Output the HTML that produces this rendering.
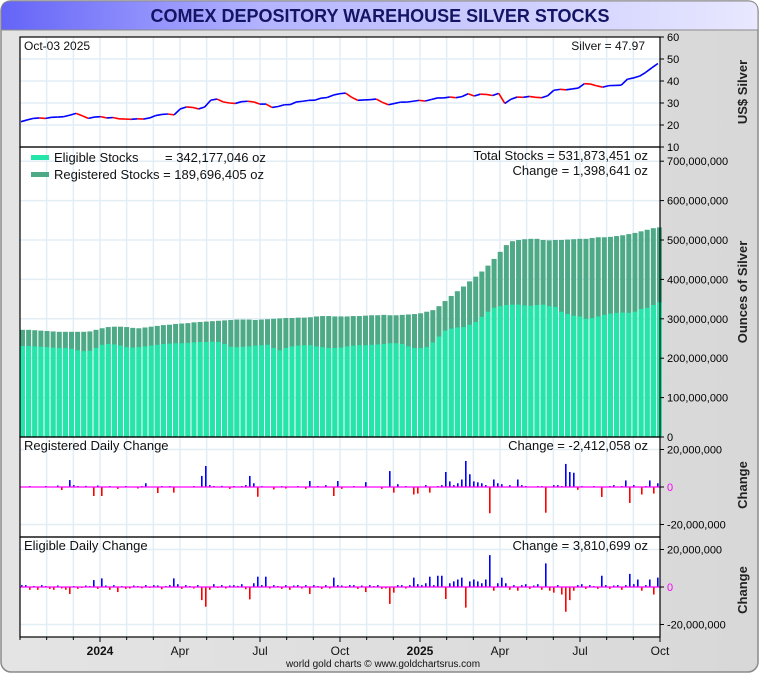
<!DOCTYPE html>
<html><head><meta charset="utf-8">
<style>
html,body{margin:0;padding:0;background:#fff;}
svg{display:block;font-family:"Liberation Sans",Arial,sans-serif;}
</style></head>
<body>
<svg id="chart" width="760" height="675" viewBox="0 0 760 675">
<defs>
<linearGradient id="tg" x1="0" x2="1" y1="0" y2="0"><stop offset="0" stop-color="#6464f8"/><stop offset="0.35" stop-color="#b4b4ff"/><stop offset="1" stop-color="#e8e8ff"/></linearGradient>
<linearGradient id="bg" x1="0" x2="1" y1="0" y2="0"><stop offset="0" stop-color="#e4e4e4"/><stop offset="1" stop-color="#d8d8d8"/></linearGradient>
</defs>
<rect x="1" y="1" width="757" height="671" rx="10" fill="url(#bg)" stroke="#8a8a8a" stroke-width="1.5"/>
<path d="M1 30 L1 11 Q1 1 11 1 L748 1 Q758 1 758 11 L758 30 Z" fill="url(#tg)" stroke="#8a8a8a"/>
<text x="380" y="22" text-anchor="middle" font-size="18" font-weight="bold" fill="#141464">COMEX DEPOSITORY WAREHOUSE SILVER STOCKS</text>
<rect x="20" y="37" width="640" height="600" fill="#fff"/>
<g id="grid"></g>
<g id="marks"></g>
<g id="frames"></g>
<g id="labels"></g>
</svg>
<script>
// ---- data ----
const monthLabels = ["2024","Apr","Jul","Oct","2025","Apr","Jul","Oct"];
const monthLabelIdx = [3,6,9,12,15,18,21,24];
const silverPrice = [21.5,22.3,23,23.2,23,23.5,23.6,23.8,24.5,25.3,24.2,23,23.6,23.8,23.2,23.4,22.8,22.7,22.6,22.8,22.7,23.2,24.3,24.8,25,24.6,27.3,28.2,28,27.3,28.2,31.3,31.8,30.5,30,29.8,30.6,30.8,30.5,29.5,29.5,28,28.4,29.2,29.3,30.5,30.8,31.2,31.3,32.2,32.5,33.6,34.2,34.5,32.6,31.2,31.4,31.5,31.8,30.3,29.2,29.8,30.4,30.4,30.8,31.2,30.9,31.6,32.3,32.3,32.7,32.4,32.9,34.2,33.2,34,33.9,33.4,34.4,29.8,31.7,32.7,32.6,33,32.6,32.4,33.3,35.8,36.2,36,36.4,36.8,38.8,38.6,37.8,37.2,37.9,38,38.1,40.8,41.4,42.2,43.9,46,47.97];
const totalStocks = [272,272,271,270,269,268,267,267,267,267,267,268,272,276,279,280,280,279,277,276,278,280,282,284,285,287,288,289,291,292,293,294,295,296,297,298,298,298,297,298,299,300,301,302,302,303,303,304,306,307,307,306,306,306,307,307,308,309,309,310,309,309,310,311,312,314,318,322,332,345,358,370,382,395,407,420,435,452,470,487,497,500,502,503,503,500,499,500,500,501,502,503,503,505,507,507,508,510,512,515,518,522,526,530,532];
const eligibleStocks = [231,231,230,229,228,227,226,226,224,220,218,219,226,234,236,235,232,228,227,228,230,232,234,236,237,238,238,239,240,241,241,242,241,236,229,228,229,230,232,233,234,226,220,226,230,232,233,233,230,228,226,226,227,230,232,233,233,234,235,236,238,238,236,230,226,226,228,240,255,270,275,278,279,285,292,305,318,328,332,335,336,336,334,333,335,336,332,330,318,312,308,306,300,302,306,310,313,315,316,315,318,325,328,335,342];
const regChange = [0,0,0.5,0,0,0,0.5,0,0,0.8,-1.6,0,3.7,1,0.5,0,0.6,0,-4.8,0.8,
-4.8,0,0.5,0,-1,0,0.5,0,0,-0.8,0.5,2,0,0,-3.2,0.5,0,0.5,-3,0,
0,0,0,0.5,0,5.9,11.2,1,0.5,0,0.6,0,-1,0.5,0,0.5,1,5.9,2,-5.2,
0.5,0,0,-1.3,0,0.5,-0.8,0,0,0.5,0,-1,3.2,0,0.5,0,1,0,-4.8,3.2,
-1,0,0,0.5,0,0,2.6,0,0,0,-1,0,8.5,-3,1.5,0,0.5,0,-4,-3.5,
0,1,-3,0,0.5,1,8,3,1,2,4,13.9,6.8,3,2.5,2,1,-14,4,2,
1.5,0,1,0,4,1,0.5,0,0,0.5,0.5,-13.7,0,1,1,0.5,12.3,8,7.6,-1.5,
0.5,0,0,0.5,0,-5.3,0,0.5,1,0,0.5,3.5,-8.5,1,0,-4,0.5,3.5,-3.5,2];
const eligChange = [1,1,-1.5,0.5,-1.5,1,0.5,-1,-1.5,0.8,-0.8,-1.5,-3.7,0.5,-1,-0.5,0.8,0.5,3.7,-1,
4.6,0.8,-1.5,1,-2.7,0.5,-1,-0.8,0.8,0.5,-0.7,1,-0.5,1,0.8,-1.2,0.5,1,4.6,1.5,
-1,1,0.5,-0.8,1,-7,-10.5,-1.5,1.5,-0.5,1,-0.8,0.8,1,0.6,1.5,-1.2,-6.6,2,5.5,
1,5.5,-0.8,1,0.5,-1,1,-1.5,0.8,1,-0.8,1,-3.7,1,0.5,-1,1,-0.8,5,1,
0.8,-0.5,1,1,-1,0.8,-2.7,1,0.5,1,-1,-0.8,-9,-3,1,1,-0.8,1,5,1.5,
1,2,5.5,1,6,6,-6.4,2,3,4,5,-11,3,4,3,2,4,17,-2,2,
5,2,-1.5,1,-2,1,1.5,-1,0.8,1.5,-1.5,12.6,-2,-3,1,-4,-13.2,-7,-2,1,
1.5,-1,1,0.5,-1,6,1,-1,0.8,1,-1.5,1,7,1.5,4,-2,1,4,-4,5];
const priceTicks = [10,20,30,40,50,60];
const stockTicks = [0,100,200,300,400,500,600,700];
const changeTicks = [-20,0,20];

// ---- scales ----
const X0=20, X1=660;
const NS="http://www.w3.org/2000/svg";
function el(parent,tag,attrs,text){const e=document.createElementNS(NS,tag);for(const k in attrs)e.setAttribute(k,attrs[k]);if(text!==undefined)e.textContent=text;parent.appendChild(e);return e;}
const grid=document.getElementById('grid'),marks=document.getElementById('marks'),frames=document.getElementById('frames'),labels=document.getElementById('labels');
const monthX = m => X0 + m*(640/24);
const weekX = i => X0 + i*(640/104.5);
const slotX = k => X0 + k*4 + 1;
const yPrice = v => 147 - (v-10)*2.2;
const yStock = v => 437 - v*0.394;
const yReg = v => 487 - v*1.875;
const yElig = v => 587 - v*1.875;
const fmt = n => n.toLocaleString('en-US');

// grid
for(let m=1;m<24;m++){const l=el(grid,'line',{x1:monthX(m),x2:monthX(m),y1:37,y2:637,stroke:'#e2eef6','stroke-width':1.5});

}
priceTicks.forEach(v=>{if(v>10&&v<60){const l=el(grid,'line',{x1:X0,x2:X1,y1:yPrice(v),y2:yPrice(v),stroke:'#e2eef6','stroke-width':1.5});

}});
stockTicks.forEach(v=>{if(v>0){const l=el(grid,'line',{x1:X0,x2:X1,y1:yStock(v),y2:yStock(v),stroke:'#e2eef6','stroke-width':1.5});

}});
[yReg,yElig].forEach(f=>[-20,20].forEach(v=>{const l=el(grid,'line',{x1:X0,x2:X1,y1:f(v),y2:f(v),stroke:'#e2eef6','stroke-width':1.5});

}));

// stocks bars
const bw=640/104.5-1.1;
totalStocks.forEach((v,i)=>{const x=weekX(i);
const r=el(marks,'rect',{x:x,y:yStock(v),width:bw,height:437-yStock(v),fill:'#4ea987'});


const e=eligibleStocks[i];
const r2=el(marks,'rect',{x:x,y:yStock(e),width:bw,height:437-yStock(e),fill:'#24e6aa'});

});

// price
for(let i=1;i<silverPrice.length;i++){const up=silverPrice[i]>=silverPrice[i-1];
const l=el(marks,'line',{x1:weekX(i-1)+1,y1:yPrice(silverPrice[i-1]),x2:weekX(i)+1,y2:yPrice(silverPrice[i]),stroke:up?'#0000ff':'#ff0000','stroke-width':1.6});

}

// change bars
function changeBars(arr,f,name){arr.forEach((v,k)=>{if(v===0)return;const y0=f(0),y=f(v);
const r=el(marks,'rect',{x:slotX(k),y:Math.min(y0,y),width:1.6,height:Math.abs(y-y0),fill:v>0?'#0000ff':'#ff0000'});

});
const z=el(marks,'line',{x1:X0,x2:X1,y1:f(0),y2:f(0),stroke:'#ff00ff','stroke-width':1.3});

}
changeBars(regChange,yReg,'registered-change-bar');
changeBars(eligChange,yElig,'eligible-change-bar');

// frames
[[37,147],[147,437],[437,537],[537,637]].forEach(([a,b])=>{const r=el(frames,'rect',{x:X0,y:a,width:640,height:b-a,fill:'none',stroke:'#000','stroke-width':1.2});

});

// right axis labels
function rtick(y,txt,color,name){el(labels,'line',{x1:X1,x2:X1+4,y1:y,y2:y,stroke:'#000'});
const t=el(labels,'text',{x:X1+7,y:y+4,'font-size':11,fill:color||'#000'},txt);

}
priceTicks.forEach(v=>rtick(yPrice(v),String(v),null,'price-tick-label'));
stockTicks.forEach(v=>rtick(yStock(v),fmt(v*1000000),null,'stock-tick-label'));
[yReg,yElig].forEach(f=>changeTicks.forEach(v=>rtick(f(v),v===0?'0':fmt(v*1000000),v===0?'#ff00ff':null,'change-tick-label')));

// x axis
for(let m=0;m<=24;m++){const x=monthX(m);el(labels,'line',{x1:x,x2:x,y1:637,y2:(monthLabelIdx.includes(m)?642:640),stroke:'#000'});}
monthLabels.forEach((s,i)=>{const t=el(labels,'text',{x:monthX(monthLabelIdx[i]),y:655,'text-anchor':'middle','font-size':12,'font-weight':(s.length===4?'bold':'normal'),fill:'#111'},s);

});

// axis titles
function vtitle(x,y,s,name){const t=el(labels,'text',{x:x,y:y,'text-anchor':'middle','font-size':13,'font-weight':'bold',fill:'#222',transform:`rotate(-90 ${x} ${y})`},s);

}
vtitle(747,92,'US$ Silver','price-axis-title');
vtitle(747,292,'Ounces of Silver','stocks-axis-title');
vtitle(747,485,'Change','registered-change-axis-title');
vtitle(747,590,'Change','eligible-change-axis-title');

// panel texts
function txt(x,y,s,anchor,size,name){const t=el(labels,'text',{x:x,y:y,'text-anchor':anchor,'font-size':size,fill:'#111'},s);

}
txt(24,50,'Oct-03  2025','start',12,'date-label');
txt(645,50,'Silver = 47.97','end',12,'silver-price-label');
const s1=el(labels,'rect',{x:31,y:155,width:18,height:5,fill:'#24e6aa'});


const s2=el(labels,'rect',{x:31,y:172,width:18,height:5,fill:'#4ea987'});


txt(54,162,'Eligible Stocks','start',13,'eligible-legend-label');
txt(165,162,'= 342,177,046 oz','start',13,'eligible-legend-value');
txt(54,179,'Registered Stocks = 189,696,405 oz','start',13,'registered-legend-label');
txt(648,160,'Total Stocks = 531,873,451 oz','end',13,'total-stocks-label');
txt(648,175,'Change = 1,398,641 oz','end',13,'total-change-label');
txt(24,450,'Registered Daily Change','start',13,'registered-panel-title');
txt(648,450,'Change = -2,412,058 oz','end',13,'registered-change-value');
txt(24,550,'Eligible Daily Change','start',13,'eligible-panel-title');
txt(648,550,'Change = 3,810,699 oz','end',13,'eligible-change-value');
txt(383,667,'world gold charts © www.goldchartsrus.com','middle',10,'credit-text');
</script>
</body></html>
